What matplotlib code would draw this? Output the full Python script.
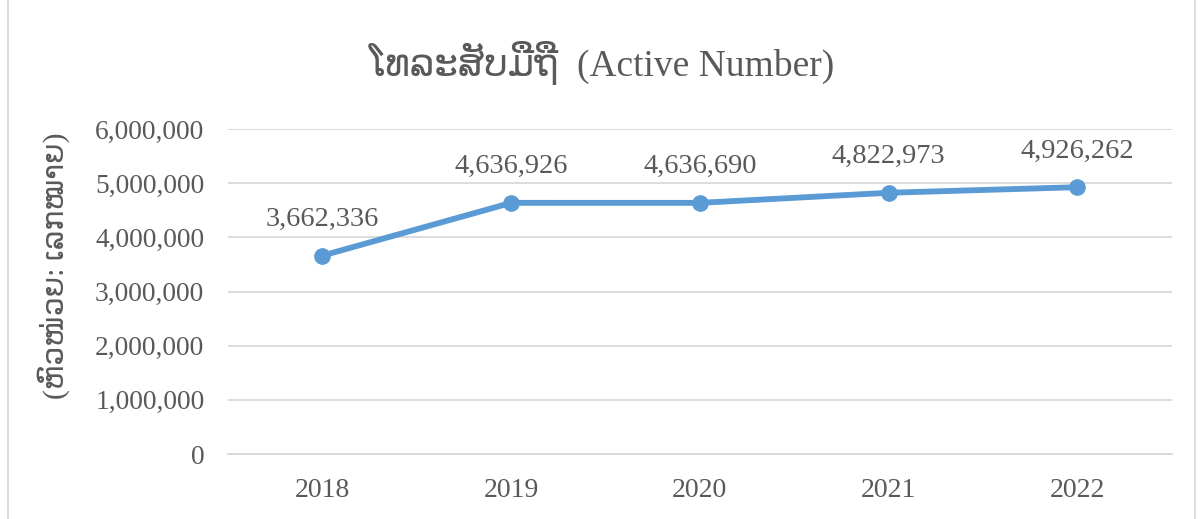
import matplotlib
matplotlib.use("Agg")
import matplotlib.pyplot as plt
import matplotlib.ticker as ticker
from matplotlib.patches import Rectangle

# ── Data ──────────────────────────────────────────────────────────────────────
years = ["2018", "2019", "2020", "2021", "2022"]
active = [3662336, 4636926, 4636690, 4822973, 4926262]
y_ticks = [0, 1000000, 2000000, 3000000, 4000000, 5000000, 6000000]

TITLE = "ໂທລະສັບມືຖື  (Active Number)"
Y_LABEL = "(ຫົວໜ່ວຍ: ເລກໝາຍ)"

FONT = ["Liberation Serif", "DejaVu Sans"]
TEXT_COLOR = "#595959"
LINE_COLOR = "#5B9BD5"
GRID_COLOR = "#D9D9D9"

plt.rcParams["font.family"] = FONT

fig = plt.figure(figsize=(12.03, 5.19), dpi=100)
ax = fig.add_axes([0.1895, 0.1252, 0.7845, 0.6262])

xs = list(range(len(years)))
ax.plot(xs, active, color=LINE_COLOR, linewidth=4.2, marker="o",
        markersize=11, solid_capstyle="round", zorder=3)

for x, v in zip(xs, active):
    ax.annotate(f"{v:,}", (x, v), xytext=(0, 26), textcoords="offset points",
                ha="center", va="center", fontsize=20.5, color=TEXT_COLOR)

ax.set_xlim(-0.5, len(years) - 0.5)
ax.set_ylim(y_ticks[0], y_ticks[-1])
ax.set_yticks(y_ticks)
ax.set_xticks(xs)
ax.set_xticklabels(years)
ax.yaxis.set_major_formatter(ticker.FuncFormatter(lambda v, p: f"{int(v):,}"))
ax.tick_params(axis="y", length=0, labelsize=19.8, labelcolor=TEXT_COLOR, pad=17)
ax.tick_params(axis="x", length=0, labelsize=20, labelcolor=TEXT_COLOR, pad=17)
ax.grid(True, axis="y", color=GRID_COLOR, linewidth=1.3)
ax.set_axisbelow(True)
for s in ["top", "right", "left"]:
    ax.spines[s].set_visible(False)
ax.spines["bottom"].set_color(GRID_COLOR)
ax.spines["bottom"].set_linewidth(1.3)

ax.set_ylabel(Y_LABEL, fontsize=21.5, color=TEXT_COLOR)
ax.yaxis.set_label_coords(-0.167, 0.58)
fig.text(0.5, 0.878, TITLE, ha="center", va="center", fontsize=27,
         color=TEXT_COLOR)

# chart border
fig.patches.append(Rectangle((0.007, -0.01), 0.986, 1.05, transform=fig.transFigure,
                             fill=False, edgecolor=GRID_COLOR, linewidth=1.3))

fig.savefig("out.png", dpi=100)
